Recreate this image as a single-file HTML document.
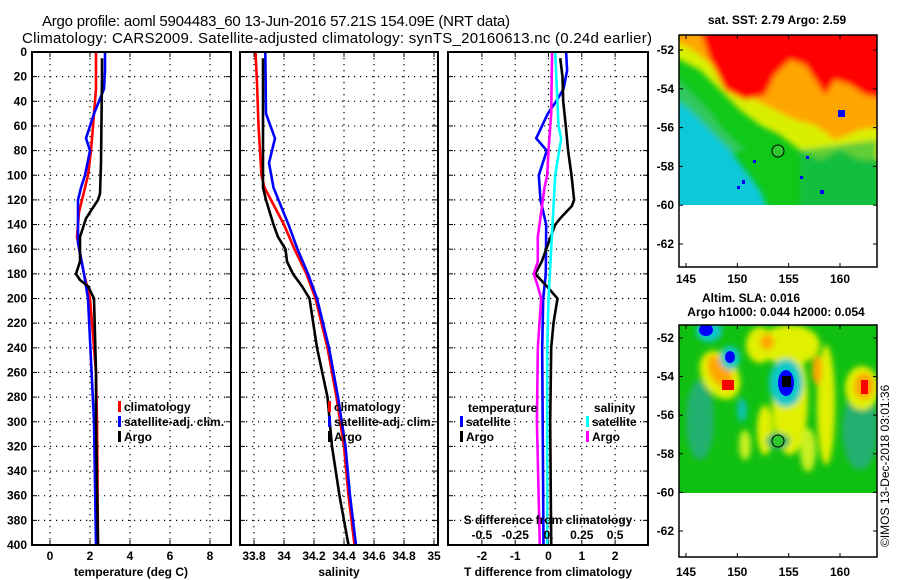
<!DOCTYPE html>
<html><head><meta charset="utf-8"><style>
html,body{margin:0;padding:0;background:#fff}
svg{display:block}
text{font-family:"Liberation Sans",sans-serif;fill:#000}
.b{font-weight:bold;font-size:12px}
</style></head><body>
<svg id="c" width="900" height="580" viewBox="0 0 900 580" xmlns="http://www.w3.org/2000/svg">
<defs>
<filter id="bl1"><feGaussianBlur stdDeviation="3"/></filter>
<filter id="bl2"><feGaussianBlur stdDeviation="3"/></filter>
<clipPath id="cm1"><rect x="679" y="35" width="198" height="170"/></clipPath>
<clipPath id="cm2"><rect x="679" y="325" width="198" height="168"/></clipPath>
</defs>
<text x="42" y="26" font-size="15" textLength="468">Argo profile: aoml 5904483_60 13-Jun-2016 57.21S 154.09E (NRT data)</text>
<text x="22" y="43" font-size="15" textLength="630">Climatology: CARS2009. Satellite-adjusted climatology: synTS_20160613.nc (0.24d earlier)</text>
<g id="panels"></g>

<!-- SST map -->
<g>
<g clip-path="url(#cm1)">
<rect x="679" y="35" width="198" height="170" fill="#10c818"/>
<g filter="url(#bl1)">
<polygon points="670,30 890,30 890,160 860,160 840,150 820,160 800,150 780,135 760,125 740,110 720,90 700,70 670,55" fill="#d8f000"/>
<polygon points="670,30 890,30 890,125 860,130 835,140 815,125 795,120 775,110 755,100 735,85 712,65 690,48 670,40" fill="#ffa500"/>
<polygon points="700,30 890,30 890,100 865,95 850,85 835,80 825,95 815,80 805,65 790,60 775,75 765,95 745,100 725,90 710,60" fill="#ff0000"/>
<polygon points="670,70 690,90 705,105 720,125 735,140 745,150 700,160 670,160" fill="#30c860"/>
<polygon points="670,95 690,110 710,130 730,150 745,170 760,190 770,215 670,215" fill="#10c8d8"/>
<polygon points="800,150 877,140 877,215 800,215" fill="#10b858" opacity="0.6"/>
</g>
<rect x="838" y="110" width="7" height="7" fill="#0000ff"/>
<rect x="742" y="180" width="3" height="4" fill="#0000ff"/><rect x="737" y="186" width="3" height="3" fill="#0000ff"/>
<rect x="820" y="190" width="4" height="4" fill="#0000ff"/><rect x="800" y="176" width="3" height="3" fill="#0000ff"/>
<rect x="806" y="156" width="3" height="3" fill="#0000ff"/><rect x="753" y="160" width="3" height="3" fill="#0000ff"/>
</g>
<rect x="679" y="35" width="198" height="232" fill="none" stroke="#000" stroke-width="1.5"/>
<circle cx="778" cy="151" r="6" fill="#30c830" stroke="#000"/>
<text x="777" y="24" text-anchor="middle" class="b">sat. SST: 2.79 Argo: 2.59</text>
</g>

<!-- SLA map -->
<g>
<g clip-path="url(#cm2)">
<rect x="679" y="325" width="198" height="168" fill="#10c010"/>
<g filter="url(#bl2)">
<ellipse cx="700" cy="420" rx="14" ry="40" fill="#20b070"/>
<ellipse cx="860" cy="430" rx="18" ry="40" fill="#20b070"/>
<ellipse cx="790" cy="400" rx="18" ry="55" fill="#e0f000"/>
<ellipse cx="790" cy="345" rx="30" ry="20" fill="#e0f000"/>
<ellipse cx="826" cy="405" rx="9" ry="60" fill="#e0f000"/>
<ellipse cx="862" cy="388" rx="17" ry="22" fill="#e0f000"/>
<ellipse cx="720" cy="375" rx="18" ry="26" fill="#e0f000" transform="rotate(-30 720 375)"/>
<ellipse cx="760" cy="345" rx="14" ry="18" fill="#e0f000"/>
<ellipse cx="765" cy="430" rx="8" ry="25" fill="#e0f000"/>
<ellipse cx="808" cy="450" rx="8" ry="22" fill="#c8f020"/>
<ellipse cx="745" cy="445" rx="6" ry="15" fill="#c8f020"/>
<ellipse cx="720" cy="372" rx="10" ry="18" fill="#ffa500" transform="rotate(-30 720 372)"/>
<ellipse cx="864" cy="386" rx="10" ry="13" fill="#ffa500"/>
<ellipse cx="817" cy="370" rx="5" ry="15" fill="#ffa500"/>
<ellipse cx="767" cy="342" rx="7" ry="8" fill="#ffa500"/>
<ellipse cx="786" cy="383" rx="17" ry="24" fill="#10c8c8"/>
<ellipse cx="709" cy="331" rx="13" ry="11" fill="#10c8c8"/>
<ellipse cx="730" cy="358" rx="10" ry="12" fill="#10c8c8"/>
<ellipse cx="778" cy="441" rx="12" ry="8" fill="#20b070"/>
<ellipse cx="742" cy="410" rx="5" ry="12" fill="#10c0b0"/>
</g>
<ellipse cx="786" cy="383" rx="8" ry="13" fill="#0000ff"/>
<rect x="782" y="376" width="9" height="11" fill="#000"/>
<ellipse cx="706" cy="330" rx="7" ry="6" fill="#0000ff"/>
<ellipse cx="730" cy="357" rx="5" ry="6" fill="#0000ff"/>
<rect x="722" y="380" width="12" height="10" fill="#ff0000"/>
<rect x="861" y="380" width="7" height="14" fill="#ff0000"/>
</g>
<rect x="679" y="325" width="198" height="232" fill="none" stroke="#000" stroke-width="1.5"/>
<circle cx="778" cy="441" r="6" fill="#30c830" stroke="#000"/>
<text x="751" y="302" text-anchor="middle" class="b">Altim. SLA: 0.016</text>
<text x="776" y="316" text-anchor="middle" class="b">Argo h1000: 0.044 h2000: 0.054</text>
</g>
<text transform="translate(889,547) rotate(-90)" font-size="12">©IMOS 13-Dec-2018 03:01:36</text>
<g id="mapaxes"></g>
</svg>
<script>
// ---------- data ----------
const tDepth = [0,30,50,70,80,100,120,130,150,180,200,260,300,400];
const tClim  = [2.3,2.3,2.2,2.1,2.05,1.9,1.6,1.45,1.35,1.7,2.0,2.3,2.35,2.4];
const tSatD  = [0,15,30,50,70,80,100,110,120,140,155,180,200,300,400];
const tSat   = [2.75,2.75,2.7,2.2,1.8,2.0,1.75,1.55,1.4,1.4,1.4,1.7,1.9,2.2,2.3];
const tArgoD = [5,20,90,115,120,125,130,135,140,150,170,180,185,190,200,260,300,400];
const tArgo  = [2.6,2.6,2.55,2.5,2.4,2.2,2.0,1.8,1.7,1.5,1.5,1.3,1.5,1.9,2.2,2.3,2.3,2.4];

const sDepth = [0,25,60,100,110,140,160,180,200,240,280,320,360,400];
const sClim  = [33.81,33.82,33.83,33.85,33.87,34.0,34.07,34.15,34.21,34.29,34.35,34.40,34.43,34.47];
const sSatD  = [0,50,60,70,80,90,110,140,160,180,200,240,280,320,360,400];
const sSat   = [33.875,33.88,33.91,33.94,33.92,33.9,33.93,34.03,34.09,34.16,34.22,34.3,34.36,34.41,34.44,34.48];
const sArgoD = [5,20,60,110,120,140,150,160,170,180,190,200,240,280,320,360,400];
const sArgo  = [33.86,33.86,33.86,33.86,33.88,33.93,33.96,34.01,34.02,34.06,34.12,34.17,34.22,34.29,34.32,34.37,34.43];

const dTSatD  = [0,15,30,40,50,70,80,100,120,140,180,200,240,400];
const dTSat   = [0.53,0.56,0.45,0.23,-0.02,-0.37,-0.05,-0.29,-0.24,-0.07,-0.08,-0.16,-0.19,-0.15];
const dTArgoD = [5,20,40,60,80,100,120,125,135,140,160,170,180,190,200,220,240,300,400];
const dTArgo  = [0.35,0.42,0.44,0.52,0.59,0.69,0.77,0.7,0.35,0.2,-0.07,-0.2,-0.4,-0.05,0.27,0.15,0.08,0.05,0.08];
const dSSatD  = [0,60,70,80,100,140,200,240,400];
const dSSat   = [0.05,0.075,0.095,0.08,0.05,0.03,0.0,-0.01,-0.01];
const dSArgoD = [0,50,80,100,110,130,150,170,180,190,200,240,300,400];
const dSArgo  = [0.027,0.02,0.0,-0.01,-0.03,-0.055,-0.08,-0.08,-0.11,-0.08,-0.055,-0.08,-0.087,-0.065];

const depthTicks = [0,20,40,60,80,100,120,140,160,180,200,220,240,260,280,300,320,340,360,380,400];
const tTicks = [0,2,4,6,8];
const sTicks = [33.8,34,34.2,34.4,34.6,34.8,35];
const sTickLabels = ["33.8","34","34.2","34.4","34.6","34.8","35"];
const dTicks = [-2,-1,0,1,2];
const dSTicks = [-0.5,-0.25,0,0.25,0.5];
const dSTickLabels = ["-0.5","-0.25","0.","0.25","0.5"];
const latTicks = [-52,-54,-56,-58,-60,-62];
const lonTicks = [145,150,155,160];

// ---------- helpers ----------
const NS='http://www.w3.org/2000/svg';
const root=document.getElementById('panels');
function mk(tag,attrs,parent){const e=document.createElementNS(NS,tag);for(const k in attrs)e.setAttribute(k,attrs[k]);(parent||root).appendChild(e);return e;}
const Y0=52,Y1=545;
const yD=d=>Y0+(Y1-Y0)*d/400;
function lin(d0,d1,r0,r1){return v=>r0+(v-d0)*(r1-r0)/(d1-d0);}
const x1=lin(0,2,50,90);
const x2=lin(33.8,34.0,254,284);
const x3=lin(0,1,548.5,581.8);
const x3s=lin(0,0.25,548.5,581.8);

function panel(name){
  const g=mk('g',{});
  
  
  return g;
}
function grid(g,L,R,xs,xf){
  depthTicks.forEach(d=>{
    const y=yD(d);
    if(d>0&&d<400){const l=mk('line',{x1:L,x2:R,y1:y,y2:y,stroke:'#000','stroke-dasharray':'1.2,4.8','stroke-width':1.2},g);
      
      }
    mk('line',{x1:L,x2:L+5,y1:y,y2:y,stroke:'#000'},g);
    mk('line',{x1:R-5,x2:R,y1:y,y2:y,stroke:'#000'},g);
  });
  xs.forEach(v=>{
    const x=xf(v);
    const l=mk('line',{x1:x,x2:x,y1:Y0,y2:Y1,stroke:'#000','stroke-dasharray':'1.2,4.8','stroke-width':1.2},g);
    
    
    mk('line',{x1:x,x2:x,y1:Y1-5,y2:Y1,stroke:'#000'},g);
    mk('line',{x1:x,x2:x,y1:Y0,y2:Y0+5,stroke:'#000'},g);
  });
}
function frame(g,L,R){mk('rect',{x:L,y:Y0,width:R-L,height:Y1-Y0,fill:'none',stroke:'#000','stroke-width':2},g);}
function series(g,ds,vs,xf,color,name){
  const pts=ds.map((d,i)=>xf(vs[i]).toFixed(1)+','+yD(d).toFixed(1)).join(' ');
  const p=mk('polyline',{points:pts,fill:'none',stroke:color,'stroke-width':2.6,'stroke-linejoin':'miter'},g);
  
  
}
function txt(g,x,y,s,anchor,name){
  const t=mk('text',{x:x,y:y,'text-anchor':anchor||'start','class':'b'},g);
  t.textContent=s;
  
  
  return t;
}
function legend(g,x,y,color,label,name){
  mk('rect',{x:x,y:y-10,width:3,height:11,fill:color},g);
  txt(g,x+6,y,label,'start',name);
}

// ---------- panel 1 ----------
let g=panel('temperature-panel');
grid(g,32,231,tTicks,x1);
series(g,tDepth,tClim,x1,'#ff0000','temp-climatology-line');
series(g,tSatD,tSat,x1,'#0000ff','temp-satellite-line');
series(g,tArgoD,tArgo,x1,'#000000','temp-argo-line');
frame(g,32,231);
depthTicks.forEach(d=>txt(g,27,yD(d)+4,String(d),'end','depth-tick-label'));
tTicks.forEach(v=>txt(g,x1(v),560,String(v),'middle','temp-tick-label'));
txt(g,131,576,'temperature (deg C)','middle','x-axis-title-temperature');
legend(g,118,411,'#ff0000','climatology','legend-climatology');
legend(g,118,426,'#0000ff','satellite-adj. clim.','legend-satellite');
legend(g,118,441,'#000000','Argo','legend-argo');

// ---------- panel 2 ----------
g=panel('salinity-panel');
grid(g,240,438,sTicks,x2);
series(g,sDepth,sClim,x2,'#ff0000','sal-climatology-line');
series(g,sSatD,sSat,x2,'#0000ff','sal-satellite-line');
series(g,sArgoD,sArgo,x2,'#000000','sal-argo-line');
frame(g,240,438);
sTicks.forEach((v,i)=>txt(g,x2(v),560,sTickLabels[i],'middle','sal-tick-label'));
txt(g,339,576,'salinity','middle','x-axis-title-salinity');
legend(g,328,411,'#ff0000','climatology','legend-climatology');
legend(g,328,426,'#0000ff','satellite-adj. clim.','legend-satellite');
legend(g,328,441,'#000000','Argo','legend-argo');

// ---------- panel 3 ----------
g=panel('difference-panel');
grid(g,448,648,dTicks,x3);
series(g,dTSatD,dTSat,x3,'#0000ff','tdiff-satellite-line');
series(g,dTArgoD,dTArgo,x3,'#000000','tdiff-argo-line');
series(g,dSSatD,dSSat,x3s,'#00ffff','sdiff-satellite-line');
series(g,dSArgoD,dSArgo,x3s,'#ff00ff','sdiff-argo-line');
frame(g,448,648);
dTicks.forEach(v=>txt(g,x3(v),560,String(v),'middle','tdiff-tick-label'));
dSTicks.forEach((v,i)=>txt(g,x3s(v),539,dSTickLabels[i],'middle','sdiff-tick-label'));
txt(g,548,524,'S difference from climatology','middle','sdiff-axis-title');
txt(g,548,576,'T difference from climatology','middle','x-axis-title-tdiff');
txt(g,468,412,'temperature','start','legend-temperature-header');
legend(g,460,426,'#0000ff','satellite','legend-t-satellite');
legend(g,460,441,'#000000','Argo','legend-t-argo');
txt(g,594,412,'salinity','start','legend-salinity-header');
legend(g,586,426,'#00ffff','satellite','legend-s-satellite');
legend(g,586,441,'#ff00ff','Argo','legend-s-argo');

// ---------- map axes ----------
const ma=document.getElementById('mapaxes');
const lonX=lin(145,160,686,840);
[[50,19.4,35,267,279],[338,19.3,325,557,572]].forEach(([y52,per,top,bot,ly])=>{
  latTicks.forEach(la=>{
    const y=y52+(-52-la)*per;
    mk('line',{x1:679,x2:683,y1:y,y2:y,stroke:'#000'},ma);
    mk('line',{x1:873,x2:877,y1:y,y2:y,stroke:'#000'},ma);
    txt(ma,674,y+4,String(la),'end','lat-tick-label');
  });
  lonTicks.forEach(lo=>{
    const x=lonX(lo);
    mk('line',{x1:x,x2:x,y1:top,y2:top+4,stroke:'#000'},ma);
    mk('line',{x1:x,x2:x,y1:bot-4,y2:bot,stroke:'#000'},ma);
    txt(ma,x,ly+4,String(lo),'middle','lon-tick-label');
  });
});
</script>
</body></html>
